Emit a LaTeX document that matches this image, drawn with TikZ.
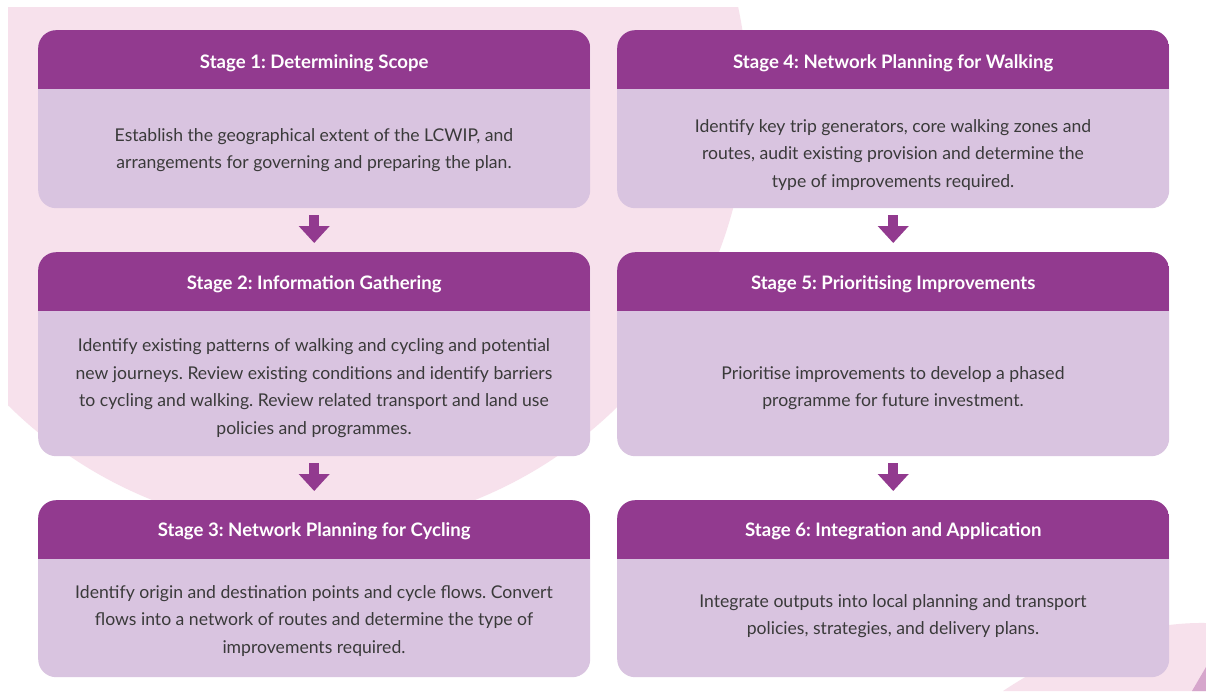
\documentclass[tikz,border=0pt]{standalone}
\usepackage{fontspec}
\setmainfont{Lato}
\usetikzlibrary{arrows.meta}
\definecolor{hdr}{HTML}{923A8F}
\definecolor{bodyc}{HTML}{D9C4E0}
\definecolor{bgpink}{HTML}{F7E1EC}
\definecolor{darkpink}{HTML}{D6A6CC}
\definecolor{txt}{HTML}{3A3A3A}
\frenchspacing
\begin{document}
\begin{tikzpicture}[x=1pt,y=-1pt,
  stage/.style={draw=none, fill=bodyc, rounded corners=18pt, minimum width=552pt, inner sep=0pt, anchor=north west,
    path picture={\fill[hdr, sharp corners] (path picture bounding box.north west) rectangle ([yshift=-59pt]path picture bounding box.north east);}},
  head/.style={text=white, font=\bfseries\fontsize{18.6}{22}\selectfont},
  desc/.style={text=txt, align=center, font=\fontsize{17.6}{27.7}\selectfont},
  arr/.style={draw=hdr, line width=10pt, -{Triangle[width=30pt,length=17pt]}}]
\useasboundingbox (0,0) rectangle (1206,691);
\fill[white] (0,0) rectangle (1206,691);
% background shapes
\begin{scope}
  \clip (8,7) rectangle (1206,691);
  \fill[bgpink] (313.5,97) circle[radius=434];
\end{scope}
\fill[bgpink] (1003,691) .. controls (1080,640) and (1150,622) .. (1206,623) -- (1206,691) -- cycle;
\fill[darkpink] (1206,667) -- (1206,691) -- (1192,691) -- cycle;
% stages
\node[stage, minimum height=178pt] (s1) at (38,30) {};
\node[stage, minimum height=178pt] (s4) at (617,30) {};
\node[stage, minimum height=204pt] (s2) at (38,252) {};
\node[stage, minimum height=204pt] (s5) at (617,252) {};
\node[stage, minimum height=177pt] (s3) at (38,500) {};
\node[stage, minimum height=177pt] (s6) at (617,500) {};
% headers
\node[head] (h1) at ([yshift=-33.5pt]s1.north) {Stage 1: Determining Scope};
\node[head] (h4) at ([yshift=-33.5pt]s4.north) {Stage 4: Network Planning for Walking};
\node[head] (h2) at ([yshift=-32pt]s2.north) {Stage 2: Information Gathering};
\node[head] (h5) at ([yshift=-32pt]s5.north) {Stage 5: Prioritising Improvements};
\node[head] (h3) at ([yshift=-31pt]s3.north) {Stage 3: Network Planning for Cycling};
\node[head] (h6) at ([yshift=-31pt]s6.north) {Stage 6: Integration and Application};
% descriptions
\node[desc] (d1) at (314,150) {Establish the geographical extent of the LCWIP, and\\ arrangements for governing and preparing the plan.};
\node[desc] (d4) at (893,155) {Identify key trip generators, core walking zones and\\ routes, audit existing provision and determine the\\ type of improvements required.};
\node[desc] (d2) at (314,388) {Identify existing patterns of walking and cycling and potential\\ new journeys. Review existing conditions and identify barriers\\ to cycling and walking. Review related transport and land use\\ policies and programmes.};
\node[desc] (d5) at (893,388) {Prioritise improvements to develop a phased\\ programme for future investment.};
\node[desc] (d3) at (314,621) {Identify origin and destination points and cycle flows. Convert\\ flows into a network of routes and determine the type of\\ improvements required.};
\node[desc] (d6) at (893,616) {Integrate outputs into local planning and transport\\ policies, strategies, and delivery plans.};
% arrows
\draw[arr] ([yshift=-7pt]s1.south) -- ([yshift=9pt]s2.north);
\draw[arr] ([yshift=-7pt]s2.south) -- ([yshift=9pt]s3.north);
\draw[arr] ([yshift=-7pt]s4.south) -- ([yshift=9pt]s5.north);
\draw[arr] ([yshift=-7pt]s5.south) -- ([yshift=9pt]s6.north);
\end{tikzpicture}
\end{document}
